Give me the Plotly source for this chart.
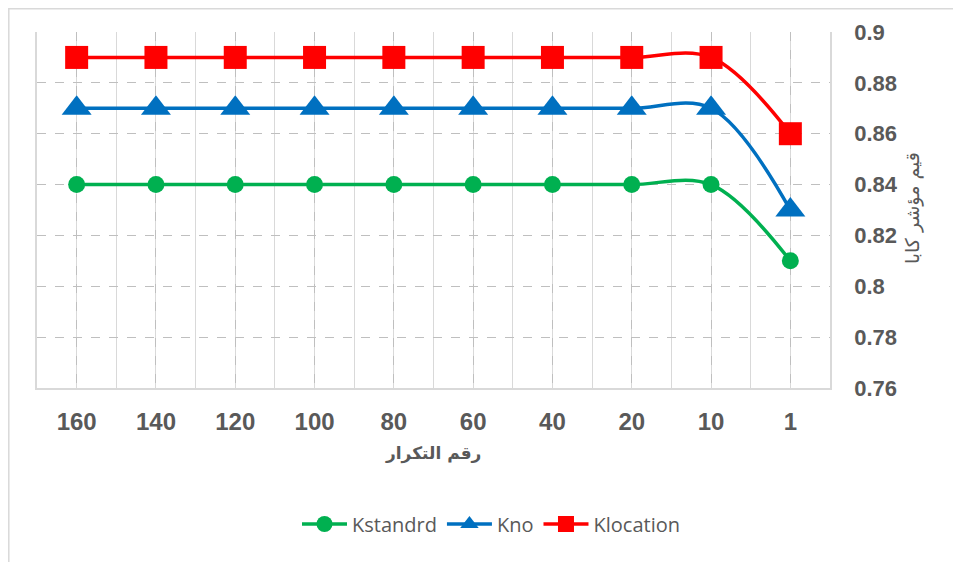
import plotly.graph_objects as go

categories = ["160", "140", "120", "100", "80", "60", "40", "20", "10", "1"]
kstandard = [0.84, 0.84, 0.84, 0.84, 0.84, 0.84, 0.84, 0.84, 0.84, 0.81]
kno = [0.87, 0.87, 0.87, 0.87, 0.87, 0.87, 0.87, 0.87, 0.87, 0.83]
klocation = [0.89, 0.89, 0.89, 0.89, 0.89, 0.89, 0.89, 0.89, 0.89, 0.86]
y_ticks = [0.76, 0.78, 0.8, 0.82, 0.84, 0.86, 0.88, 0.9]
y_tick_text = ["0.76", "0.78", "0.8", "0.82", "0.84", "0.86", "0.88", "0.9"]

xpos = list(range(len(categories)))

fig = go.Figure()
series = [
    ("Kstandrd", kstandard, "#00B050", "circle", 17),
    ("Kno", kno, "#0070C0", "triangle-up", 26),
    ("Klocation", klocation, "#FF0000", "square", 23),
]
for name, vals, col, sym, sz in series:
    fig.add_trace(go.Scatter(
        x=xpos, y=vals, name=name, mode="lines+markers", legendgroup=name,
        line=dict(color=col, width=3.5, shape="spline", smoothing=1),
        marker=dict(color=col, symbol=sym, size=sz),
    ))

# page offset (body margin) compensation
OFF = 8
W, H = 961 - OFF, 562 - OFF
L, T = 29, 24
pw, ph = 793, 356
R = W - L - pw
B = H - T - ph

def px_x(px):
    return (px - OFF - L) / pw

def px_y(py):
    return (T + ph - (py - OFF)) / ph

fig.update_layout(
    width=W, height=H,
    margin=dict(l=L, r=R, t=T, b=B, autoexpand=False),
    paper_bgcolor="white", plot_bgcolor="white",
    showlegend=True,
    legend=dict(orientation="h", x=px_x(491), xanchor="center",
                y=px_y(524), yanchor="middle",
                font=dict(family="Open Sans", size=20, color="#595959"),
                itemwidth=45, traceorder="normal", tracegroupgap=22),
    xaxis=dict(
        range=[-0.5, len(categories) - 0.5],
        tickmode="array", tickvals=xpos, ticktext=categories,
        showgrid=True, gridcolor="#bfbfbf", griddash="dash", gridwidth=1,
        minor=dict(dtick=0.5, tick0=0, showgrid=True, gridcolor="#d9d9d9", gridwidth=1, griddash="solid"),
        showline=True, linecolor="#d9d9d9", linewidth=1.5,
        zeroline=False, ticks="",
        tickfont=dict(family="Liberation Sans", size=24, color="#595959", weight="bold"),
        ticklabelstandoff=11,
    ),
    yaxis=dict(
        side="right",
        range=[0.76, 0.9],
        tickmode="array", tickvals=y_ticks, ticktext=y_tick_text,
        showgrid=True, gridcolor="#bfbfbf", griddash="dash", gridwidth=1,
        showline=True, mirror=True, linecolor="#d9d9d9", linewidth=1.5,
        zeroline=False, ticks="",
        tickfont=dict(family="Liberation Sans", size=22, color="#595959", weight="bold"),
        ticklabelstandoff=18,
    ),
    shapes=[dict(type="rect", xref="paper", yref="paper",
                 x0=px_x(8.8), x1=px_x(1100),
                 y0=px_y(700), y1=px_y(8.8),
                 line=dict(color="#d9d9d9", width=1.5), layer="below")],
    annotations=[
        dict(text="رقم التكرار", xref="paper", yref="paper",
             x=px_x(433), y=px_y(453), xanchor="center", yanchor="middle",
             showarrow=False,
             font=dict(family="DejaVu Sans", size=17, color="#595959", weight="bold")),
        dict(text="قيم مؤشر كابا", xref="paper", yref="paper",
             x=px_x(912), y=px_y(208), xanchor="center", yanchor="middle",
             showarrow=False, textangle=-90,
             font=dict(family="DejaVu Sans", size=19, color="#595959")),
    ],
)

fig.write_html("out.html")
